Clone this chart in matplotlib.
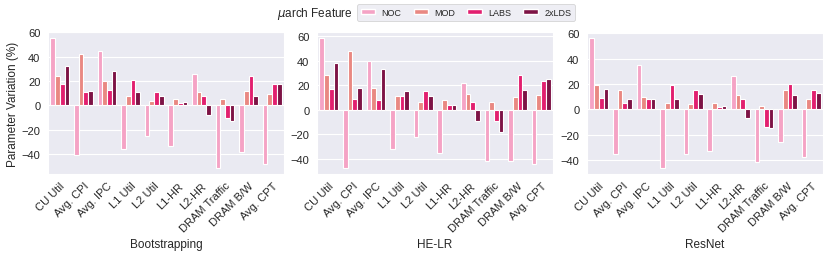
import matplotlib
matplotlib.use('Agg')
import matplotlib.pyplot as plt
import numpy as np
import seaborn as sns
from matplotlib.patches import Patch

sns.set_style('darkgrid')
plt.rcParams['font.family'] = ['Liberation Sans', 'DejaVu Sans']

metrics = ['CU Util', 'Avg. CPI', 'Avg. IPC', 'L1 Util', 'L2 Util', 'L1-HR',
           'L2-HR', 'DRAM Traffic', 'DRAM B/W', 'Avg. CPT']
features = ['NOC', 'MOD', 'LABS', '2xLDS']
colors = ['#f5a3c5', '#e98882', '#e21f6f', '#7d1345']
workloads = ['Bootstrapping', 'HE-LR', 'ResNet']

# one list per feature, values per metric
boot_noc = [55, -41, 45, -36, -25, -33, 26, -51, -38, -48]
boot_mod = [24, 42, 20, 8, 4, 5, 11, 5, 12, 9]
boot_labs = [18, 11, 13, 21, 11, 2, 8, -10, 24, 18]
boot_lds = [32, 12, 28, 11, 8, 3, -8, -13, 8, 18]

helr_noc = [58, -47, 40, -32, -22, -35, 22, -42, -42, -44]
helr_mod = [28, 48, 18, 11, 6, 8, 13, 6, 10, 12]
helr_labs = [17, 9, 8, 11, 15, 4, 6, -9, 28, 23]
helr_lds = [38, 18, 33, 15, 11, 4, -9, -18, 16, 25]

resnet_noc = [56, -35, 35, -46, -35, -33, 26, -42, -26, -38]
resnet_mod = [19, 15, 10, 5, 4, 5, 11, 3, 15, 8]
resnet_labs = [9, 5, 8, 19, 15, 2, 8, -14, 20, 15]
resnet_lds = [16, 8, 8, 8, 12, 3, -7, -15, 11, 13]

data = [
    [boot_noc, boot_mod, boot_labs, boot_lds],
    [helr_noc, helr_mod, helr_labs, helr_lds],
    [resnet_noc, resnet_mod, resnet_labs, resnet_lds],
]

fig = plt.figure(figsize=(8.31, 2.55), dpi=100)
lefts = [48, 317, 587]
axes = [fig.add_axes([l / 831, 1 - 175 / 255, 236 / 831, 142 / 255]) for l in lefts]

x = np.arange(len(metrics))
w = 0.2
for ax, series, name in zip(axes, data, workloads):
    for i, (vals, c) in enumerate(zip(series, colors)):
        ax.bar(x + (i - 1.5) * w, vals, width=w, color=c, edgecolor='white',
               linewidth=0.8, zorder=2)
    ax.set_xlim(-0.5, len(metrics) - 0.5)
    ax.set_yticks([-40, -20, 0, 20, 40, 60])
    ax.set_xticks(x)
    ax.set_xticklabels(metrics, rotation=45, ha='right', rotation_mode='anchor',
                       fontsize=8)
    ax.tick_params(axis='y', labelsize=8, pad=2)
    ax.tick_params(axis='x', pad=1)
    ax.set_xlabel(name, fontsize=8.5, labelpad=3)
    ax.grid(axis='x', visible=False)

axes[0].set_ylabel('Parameter Variation (%)', fontsize=8.5, labelpad=2)

handles = [Patch(facecolor=c, edgecolor='white') for c in colors]
leg = fig.legend(handles, features, loc='center', bbox_to_anchor=(466 / 831, 1 - 13.5 / 255),
                 ncol=4, fontsize=6.5, frameon=True, handlelength=1.6, columnspacing=1.35,
                 handletextpad=0.7, handleheight=0.5, borderpad=0.4)
leg.get_frame().set_facecolor('#eaeaf2')
leg.get_frame().set_edgecolor('#cccccc')
leg.get_frame().set_linewidth(0.6)
fig.text(353 / 831, 1 - 14 / 255, r'$\mu$arch Feature',
         ha='right', va='center', fontsize=8.5)

fig.savefig('out.png', dpi=100)
